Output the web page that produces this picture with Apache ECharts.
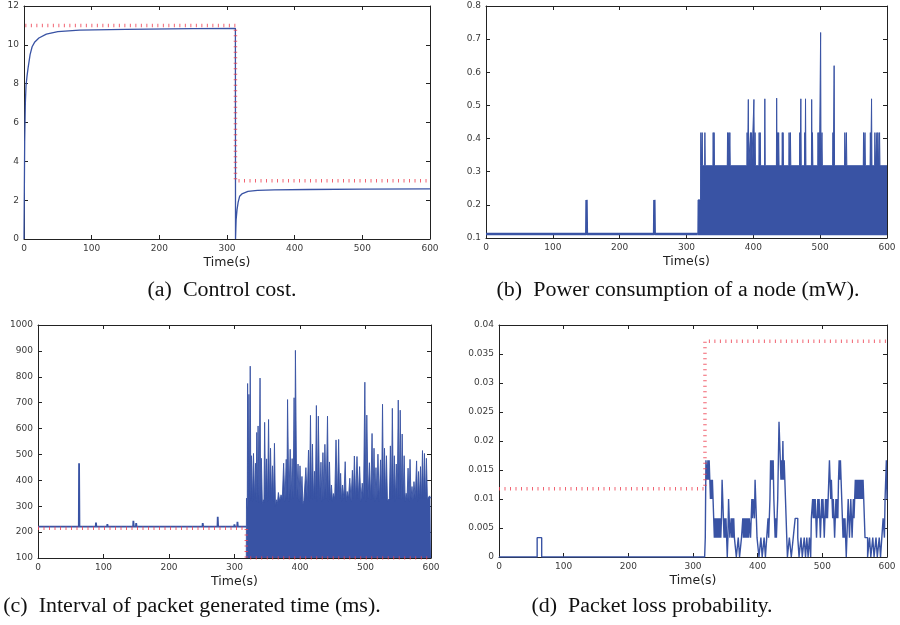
<!DOCTYPE html>
<html><head><meta charset="utf-8">
<script src="https://cdn.jsdelivr.net/npm/echarts@6/dist/echarts.min.js"></script>
<style>html,body{margin:0;padding:0;background:#fff}#c{width:900px;height:625px}</style>
</head><body><div id="c"></div><script>
// ---------- data ----------
// (a) control cost
const aT = [0,0.5,1,2,3,4.5,6,9,12,16,22,33,50,82,150,250,312.4,312.6,313.5,314.8,316.5,318.7,322,331,345,370,420,500,600];
const aV = [0,2.5,5,7,7.9,8.4,8.8,9.5,9.9,10.15,10.35,10.55,10.68,10.76,10.8,10.83,10.85,0,1,1.5,1.9,2.2,2.32,2.45,2.5,2.53,2.55,2.57,2.58];
const aRefT = [2,312.5,312.5,600];
const aRefV = [11,11,3,3];

// (b) power consumption
const bBase = 0.112;
const bLowEnd = 317;
const bLowSpikeT = [150.5,252];
const bLowSpikeV = [0.215,0.215];
const bStartT = [317,317.3,321];
const bStartV = [0.112,0.215,0.215];
const bCore = 0.318;
const bSpikeT = [321.6,323.6,327.6,340,341.4,361.5,363.4,365,390.8,392.6,395.8,397.2,401,402.7,408.8,410.4,417.3,435,436.4,438,443.4,444.6,453.6,455.6,469.6,471.2,477,478.2,487.4,488.6,496.9,498.4,500.8,502.8,519.2,521,537,539.4,565,567.2,575.2,577,582,585,586.6,589];
const bSpikeV = [.418,.418,.418,.418,.418,.418,.418,.418, .418,.518,.418,.418,.518,.418,.418,.418,.52,.522,.418,.418, .418,.418,.418,.418,.418,.52,.418,.52,.518,.418, .418,.418,.72,.418,.418,.62,.418,.418,.418,.418, .418,.52,.418,.418,.418,.418];

// (c) interval of packet generated time
const cBase = 221;
const cLowEnd = 318;
const cLowSpikeT = [2,30,62.8,88.6,106,145.7,150,176,190,203,251.6,274.5,288,300,304.6];
const cLowSpikeV = [228,228,466,237,231,244,235,228,227,228,235,259,228,230,240];
const cDense = [[318,100],[318.3,331],[319.5,290],[320,774],[321,330],[322,732],[323,320],[324,841],[325,330],[326,495],[327.5,320],[329,504],[330.5,325],[332,466],[333,320],[334,585],[335,330],[336,610],[337.5,315],[339,795],[340,320],[341,485],[342.5,310],[344,325],[345,315],[346,624],[347.5,330],[349,483],[350.5,320],[352,635],[353.5,325],[355,524],[356.5,330],[358,456],[359.5,320],[361,543],[362.5,300],[364,325],[365.5,310],[367,353],[369,320],[371,344],[373,330],[375,466],[377,320],[379,481],[380,330],[381,712],[383,320],[385,520],[386.5,325],[388,484],[389.5,330],[391,719],[392,340],[393,902],[395,330],[397,463],[398.5,320],[400,456],[401.5,330],[403,415],[404.5,310],[406,322],[407.5,320],[409,449],[411,330],[413,517],[414.5,320],[416,651],[417.5,330],[419,540],[420.5,325],[422,435],[423.5,330],[425,689],[426.5,320],[428,648],[430,330],[432,470],[433.5,320],[435,507],[436.5,325],[438,539],[440,330],[442,648],[443.5,320],[445,471],[446.5,325],[448,382],[449.5,320],[451,349],[453,330],[455,556],[457,325],[459,558],[460.5,330],[462,427],[463.5,320],[465,382],[467,330],[469,472],[470.5,320],[472,357],[474,330],[476,408],[478,320],[480,439],[481.5,330],[483,494],[485,325],[487,492],[489,330],[491,453],[493,320],[495,389],[497,330],[499,779],[500.5,320],[502,652],[504,330],[506,468],[508,325],[510,581],[511.5,330],[513,524],[514.5,320],[516,449],[517.5,330],[519,501],[521,320],[523,479],[524.5,330],[526,694],[527.5,325],[529,524],[530.5,330],[532,495],[533.5,320],[535,318],[536.5,330],[538,533],[539.5,325],[541,678],[542.5,330],[544,495],[545.5,320],[547,463],[548.5,330],[550,710],[551.5,330],[553,671],[554.5,325],[556,579],[557.5,330],[559,495],[560.5,320],[562,350],[563.5,330],[565,447],[566.5,320],[568,481],[569.5,330],[571,376],[572.5,325],[574,395],[576,330],[578,475],[579.5,320],[581,434],[582.5,330],[584,453],[585.5,325],[587,515],[588.5,330],[590,504],[591.5,325],[593,485],[594.5,330],[596,331],[598,340],[599,331],[600,335]];
const cRefT = [0,318,318,600];
const cRefV = [215,215,100,100];

// (d) packet loss probability (levels in units of 1/300)
const dUnit = 1/300;
const dLowT = [0,59,66,318];
const dLowL = [0,1,0,0];
const dDenseStart = 318;
const dDenseL = [
 0,1,
 5,5,4,5,4,5,4,3,4,3,
 4,3,2,1,2,1,2,1,2,1,
 2,1,2,1,2,4,3,2,1,2,
 1,2,1,0,1,3,2,1,1,2,
 1,2,1,2,1,1,1,0,0,0,
 1,1,0,0,0,1,1,2,1,2,
 1,2,1,2,1,2,1,2,2,1,
 2,3,2,3,3,2,4,3,2,1,
 1,1,0,0,0,1,1,0,0,0,
 1,1,0,0,1,1,2,1,2,3,
 5,4,5,4,5,3,2,1,2,1,
 2,3,5,7,6,5,4,5,4,6,
 4,5,4,3,2,1,0,0,0,1,
 1,1,0,0,0,1,1,1,2,2,
 2,2,1,1,0,0,0,1,1,0,
 0,0,1,1,0,0,1,1,0,0,
 1,1,0,2,2,3,2,3,2,3,
 2,1,2,3,2,3,2,1,2,3,
 2,3,2,1,2,3,2,3,2,2,
 4,5,4,3,4,3,2,3,2,1,
 2,3,2,3,2,4,5,4,5,4,
 3,2,1,2,1,2,1,0,1,2,
 3,2,1,2,3,2,1,2,3,2,
 3,4,3,4,3,4,3,4,3,4,
 3,4,3,4,3,2,1,1,1,1,
 0,0,0,1,1,0,0,0,1,1,
 0,0,0,1,1,0,0,0,1,1,
 0,0,1,1,2,2,1,3,4,5,
 3];
const dRefT = [0,318.5,318.5,600];
const dRefV = [0.01175,0.01175,0.0372,0.0372];

const xTicks = {min:0, max:600, interval:100};
const yTicksA = {min:0, max:12, interval:2};
const yTicksB = {min:0.1, max:0.8, interval:0.1};
const yTicksC = {min:100, max:1000, interval:100};
const yTicksD = {min:0, max:0.04, interval:0.005};
const xName = 'Time(s)';
const captions = ['(a)  Control cost.', '(b)  Power consumption of a node (mW).', '(c)  Interval of packet generated time (ms).', '(d)  Packet loss probability.'];

// ---------- helpers ----------
const zip = (t, v) => t.map((x, i) => [x, v[i]]);
function withSpikes(base, ts, vs, t0, t1) {
  const out = [[t0, base]];
  ts.forEach((t, i) => { out.push([t-0.5, base],[t-0.1, vs[i]],[t+0.1, vs[i]],[t+0.5, base]); });
  out.push([t1, base]);
  return out;
}

const BLUE = '#3953a4';
const RED = 'rgba(238,60,78,0.8)';
const AX = '#222';
const LBL = {fontFamily:'DejaVu Sans', fontSize:9, color:'#3a3a3a'};

const grids = [
  {left:24, top:6, width:406, height:233},
  {left:486, top:6, width:401, height:232},
  {left:38, top:325, width:393, height:233},
  {left:499, top:325, width:388, height:232}
];
const yT = [yTicksA, yTicksB, yTicksC, yTicksD];
const yFmt = [v=>String(v), v=>String(+v.toFixed(1)), v=>String(v), v=>String(+v.toFixed(3))];
const xAxis = [], yAxis = [];
grids.forEach((g, i) => {
  const line = {show:true, onZero:false, lineStyle:{color:AX, width:1}};
  const tick = {show:true, inside:true, length:4, lineStyle:{color:AX, width:1}};
  xAxis.push({gridIndex:i, type:'value', ...xTicks, position:'bottom', name:xName, nameLocation:'middle', nameGap:17,
    nameTextStyle:{fontFamily:'DejaVu Sans', fontSize:12.5, color:'#222'},
    axisLine:line, axisTick:tick, axisLabel:{...LBL, margin:5}, splitLine:{show:false}});
  xAxis.push({gridIndex:i, type:'value', ...xTicks, position:'top', axisLine:line, axisTick:tick, axisLabel:{show:false}, splitLine:{show:false}});
  yAxis.push({gridIndex:i, type:'value', ...yT[i], position:'left', axisLine:line, axisTick:tick,
    axisLabel:{...LBL, margin:5, formatter:yFmt[i]}, splitLine:{show:false}});
  yAxis.push({gridIndex:i, type:'value', ...yT[i], position:'right', axisLine:line, axisTick:tick, axisLabel:{show:false}, splitLine:{show:false}});
});

const refStyle = {color:RED, width:3.5, type:[1,4.5], cap:'butt'};
const base = (i) => ({type:'line', xAxisIndex:2*i, yAxisIndex:2*i, symbol:'none', silent:true, animation:false});

const bDense = zip(bStartT, bStartV);
bSpikeT.forEach((t, i) => { bDense.push([t-0.5, bCore],[t-0.1, bSpikeV[i]],[t+0.1, bSpikeV[i]],[t+0.5, bCore]); });
bDense.push([600, bCore]);

const dData = zip(dLowT, dLowL.map(l => l*dUnit));
dDenseL.forEach((l, k) => dData.push([dDenseStart + k, l*dUnit]));

const series = [
  {...base(0), data:zip(aT, aV), lineStyle:{color:BLUE, width:1.3}, z:2},
  {...base(0), data:zip(aRefT, aRefV), lineStyle:refStyle, z:3},

  {...base(1), data:withSpikes(bBase, bLowSpikeT, bLowSpikeV, 0, bLowEnd), lineStyle:{color:BLUE, width:2.4}, z:2},
  {...base(1), data:bDense, lineStyle:{color:BLUE, width:1}, areaStyle:{color:BLUE, opacity:1, origin:0.108}, z:2},

  {...base(2), data:withSpikes(cBase, cLowSpikeT, cLowSpikeV, 0, cLowEnd), lineStyle:{color:BLUE, width:1.8}, z:2},
  {...base(2), data:cDense, lineStyle:{color:BLUE, width:0.9}, areaStyle:{color:BLUE, opacity:1, origin:'start'}, z:2},
  {...base(2), data:zip(cRefT, cRefV), lineStyle:refStyle, z:3},

  {...base(3), data:dData, step:'end', lineStyle:{color:BLUE, width:1.4}, z:2},
  {...base(3), data:zip(dRefT, dRefV), lineStyle:refStyle, z:3}
];

const capPos = [[222,291],[678,291],[192,607],[652,607]];
const graphic = captions.map((t, i) => ({type:'text', x:capPos[i][0], y:capPos[i][1], scaleX:1.1,
  style:{text:t, fontFamily:'Liberation Serif', fontSize:20, fill:'#111', textAlign:'center', textVerticalAlign:'middle'}}));

const chart = echarts.init(document.getElementById('c'), null, {renderer:'canvas'});
chart.setOption({animation:false, grid:grids, xAxis, yAxis, series, graphic});
</script></body></html>
